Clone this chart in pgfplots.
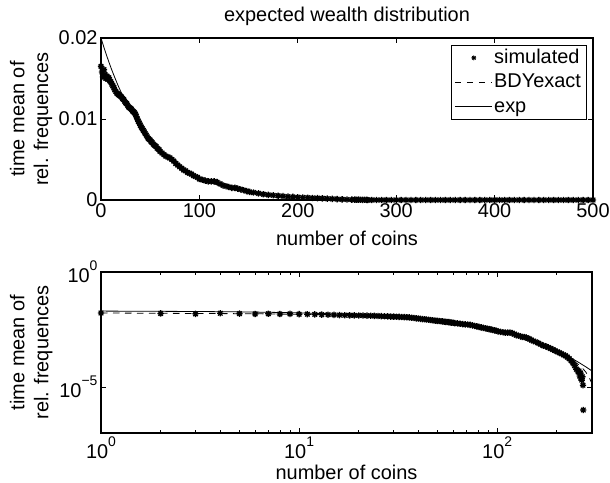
\documentclass[border=0pt]{standalone}
\usepackage{fontspec}
\setmainfont{Liberation Sans}
\usepackage{pgfplots}
\usepackage{pgfplotstable}
\pgfplotsset{compat=1.18}

\pgfdeclareplotmark{mstar}{%
  \pgfpathmoveto{\pgfqpoint{-\pgfplotmarksize}{0pt}}\pgfpathlineto{\pgfqpoint{\pgfplotmarksize}{0pt}}%
  \pgfpathmoveto{\pgfqpoint{0pt}{-\pgfplotmarksize}}\pgfpathlineto{\pgfqpoint{0pt}{\pgfplotmarksize}}%
  \pgfpathmoveto{\pgfqpoint{-0.707\pgfplotmarksize}{-0.707\pgfplotmarksize}}\pgfpathlineto{\pgfqpoint{0.707\pgfplotmarksize}{0.707\pgfplotmarksize}}%
  \pgfpathmoveto{\pgfqpoint{-0.707\pgfplotmarksize}{0.707\pgfplotmarksize}}\pgfpathlineto{\pgfqpoint{0.707\pgfplotmarksize}{-0.707\pgfplotmarksize}}%
  \pgfusepathqstroke}

\pgfplotstableread{
n v
0 0.0165
1 0.0158
2 0.0152
3 0.0161
4 0.0155
5 0.0150
6 0.0153
7 0.0149
8 0.0151
9 0.0147
10 0.0146
11 0.0143
12 0.0141
13 0.0139
14 0.0136
15 0.0134
16 0.0132
17 0.0131
18 0.0130
19 0.0129
20 0.0128
21 0.0127
22 0.0125
23 0.0124
24 0.0122
25 0.0120
26 0.0119
27 0.0117
28 0.0115
29 0.0114
30 0.0113
31 0.0112
32 0.0110
33 0.0109
34 0.0108
35 0.0106
36 0.0103
37 0.0100
38 0.0097
39 0.0095
40 0.0092
41 0.0090
42 0.0088
43 0.0086
44 0.0084
45 0.0082
46 0.0080
47 0.0078
48 0.0076
49 0.0075
50 0.0074
51 0.0072
52 0.0071
53 0.0069
54 0.0068
55 0.0067
56 0.0066
57 0.0064
58 0.0063
59 0.0062
60 0.0060
62 0.0058
64 0.0056
66 0.0054
68 0.0053
70 0.0052
72 0.0050
74 0.0048
76 0.0045
78 0.0043
80 0.0041
82 0.0039
84 0.0037
86 0.0036
88 0.0034
90 0.0033
92 0.0032
94 0.0030
96 0.0029
98 0.0028
100 0.0026
103 0.0025
106 0.0024
109 0.0023
112 0.0023
115 0.0023
118 0.0022
121 0.0020
124 0.0018
127 0.0017
130 0.0016
133 0.0015
136 0.0015
139 0.0014
142 0.0013
145 0.0012
148 0.0011
151 0.0010
155 0.00092
160 0.00082
165 0.00071
170 0.00063
175 0.00058
180 0.00053
185 0.00047
190 0.00042
195 0.00038
200 0.00034
205 0.00031
210 0.00028
215 0.00025
220 0.00023
225 0.00020
230 0.00017
235 0.00014
240 0.00011
245 0.000085
250 0.00006
255 0.000045
258 0.00005
260 0.00003
262 0.00004
264 0.000025
266 0.00002
268 0.000028
270 0.000012
271 0.000001
}\simdata

\pgfplotstableread{
n v
275 0
280 0
285 0
290 0
295 0
300 0
305 0
310 0
315 0
320 0
325 0
330 0
335 0
340 0
345 0
350 0
355 0
360 0
365 0
370 0
375 0
380 0
385 0
390 0
395 0
400 0
405 0
410 0
415 0
420 0
425 0
430 0
435 0
440 0
445 0
450 0
455 0
460 0
465 0
470 0
475 0
480 0
485 0
490 0
495 0
500 0
}\simzero

\pgfplotstableread{
n v
0 0.0165
5 0.0153
10 0.0143
15 0.0134
20 0.0126
25 0.0117
30 0.0109
35 0.0100
40 0.0092
45 0.0084
50 0.0076
60 0.0062
70 0.0051
80 0.0041
90 0.0034
100 0.0028
110 0.0023
120 0.0019
130 0.00155
140 0.00127
150 0.00104
160 0.00085
170 0.00069
180 0.00056
190 0.00046
200 0.00037
210 0.00030
220 0.00024
230 0.00019
240 0.00015
250 0.00011
260 0.000085
270 0.000062
280 0.000043
286 0.00003
292 0.000023
298 0.000016
300 0.000014
}\bdydata

\pgfplotstableread{
n v
0 0.02
2 0.01922
4 0.01846
6 0.01774
8 0.01704
10 0.01637
12 0.01573
14 0.01512
16 0.01452
18 0.01395
20 0.01341
25 0.01213
30 0.01098
35 0.00993
40 0.00899
45 0.00813
50 0.00736
55 0.00666
60 0.00602
70 0.00493
80 0.00404
90 0.00331
100 0.00271
110 0.00222
120 0.00181
130 0.00149
140 0.00122
150 0.00100
160 0.00082
170 0.00067
180 0.00055
190 0.00045
200 0.00037
210 0.00030
220 0.000246
230 0.000201
240 0.000165
250 0.000135
260 0.000110
270 0.000090
280 0.000074
290 0.0000606
300 0.0000496
320 0.0000332
350 0.0000182
400 0.0000067
450 0.0000025
500 0.0000009
}\expdata

\newcommand{\sups}[1]{\raisebox{0.62em}{\fontsize{14}{14}\selectfont #1}}

\pgfplotsset{
  mystyle/.style={
    scale only axis,
    axis line style={line width=1.2bp},
    every tick/.style={black, line width=0.8bp},
    tick align=inside,
    major tick length=5bp,
    minor tick length=3bp,
    scaled ticks=false,
    tick label style={font=\fontsize{20}{24}\selectfont},
    label style={font=\fontsize{20}{24}\selectfont},
    every axis x label/.style={at={(axis description cs:0.5,0)}, anchor=base, yshift=-46bp},
    every axis y label/.style={at={(axis description cs:-0.142,0.5)}, anchor=center, align=center, rotate=90},
    xlabel={number of coins},
    ylabel={time mean of\\rel. frequences},
  },
  simstyle/.style={only marks, mark=mstar, mark size=3.2bp, mark options={line width=1.35bp}, black},
  bdystyle/.style={black, line width=0.8bp, dash pattern=on 6.5bp off 5.5bp, no marks},
  expstyle/.style={black, line width=0.8bp, no marks},
  simlegend/.style={legend image code/.code={\draw[##1, mark size=2.4bp, mark options={line width=0.9bp}] plot coordinates {(19bp,0bp)};}},
  linelegend/.style={legend image code/.code={\draw[##1] (0bp,0bp) -- (37bp,0bp);}},
}

\begin{document}
\begin{tikzpicture}[font=\fontsize{20}{24}\selectfont]
\path[use as bounding box] (0,0) rectangle (610bp,483bp);

\begin{axis}[mystyle,
  at={(101bp,283bp)}, anchor=south west,
  width=492bp, height=162bp,
  xmin=0, xmax=500, ymin=0, ymax=0.02,
  xtick={0,100,200,300,400,500},
  xticklabels={0,100,200,300,400,500},
  ytick={0,0.01,0.02},
  yticklabels={0,0.01,0.02},
  title={expected wealth distribution},
  every axis title/.style={at={(axis description cs:0.5,1)}, anchor=base, yshift=16bp, font=\fontsize{20}{24}\selectfont},
  legend style={at={(axis description cs:0.9865,0.957)}, anchor=north east,
    draw=black, line width=0.8bp, inner xsep=3bp, inner ysep=2bp,
    nodes={inner xsep=2bp, inner ysep=1bp, text height=15bp, text depth=4bp}, row sep=3.5bp,
    font=\fontsize{20}{24}\selectfont},
  legend cell align=left,
]
\addplot[simstyle, simlegend] table[x=n,y=v]{\simdata};
\addlegendentry{simulated}
\addplot[bdystyle, linelegend] table[x=n,y=v]{\bdydata};
\addlegendentry{BDYexact}
\addplot[expstyle, linelegend] table[x=n,y=v]{\expdata};
\addlegendentry{exp}
\addplot[simstyle, forget plot] table[x=n,y=v]{\simzero};
\addplot[bdystyle, forget plot] coordinates {(300,0.000014) (301,0) (500,0)};
\end{axis}

\begin{axis}[mystyle,
  at={(101bp,50bp)}, anchor=south west,
  width=491bp, height=161bp,
  xmode=log, ymode=log,
  xmin=1, xmax=301, ymin=1e-7, ymax=1,
  xtick={1,10,100},
  xticklabels={10\sups{0},10\sups{1},10\sups{2}},
  minor xtick={2,3,4,5,6,7,8,9,20,30,40,50,60,70,80,90,200,300},
  ytick={1e-5,1},
  yticklabels={10\sups{−5},10\sups{0}},
  yminorticks=false,
]
\addplot[simstyle] table[x expr=\thisrow{n}+1,y=v]{\simdata};
\addplot[bdystyle] table[x expr=\thisrow{n}+1,y=v]{\bdydata};
\addplot[expstyle] table[x expr=\thisrow{n}+1,y=v]{\expdata};
\end{axis}
\end{tikzpicture}
\end{document}
